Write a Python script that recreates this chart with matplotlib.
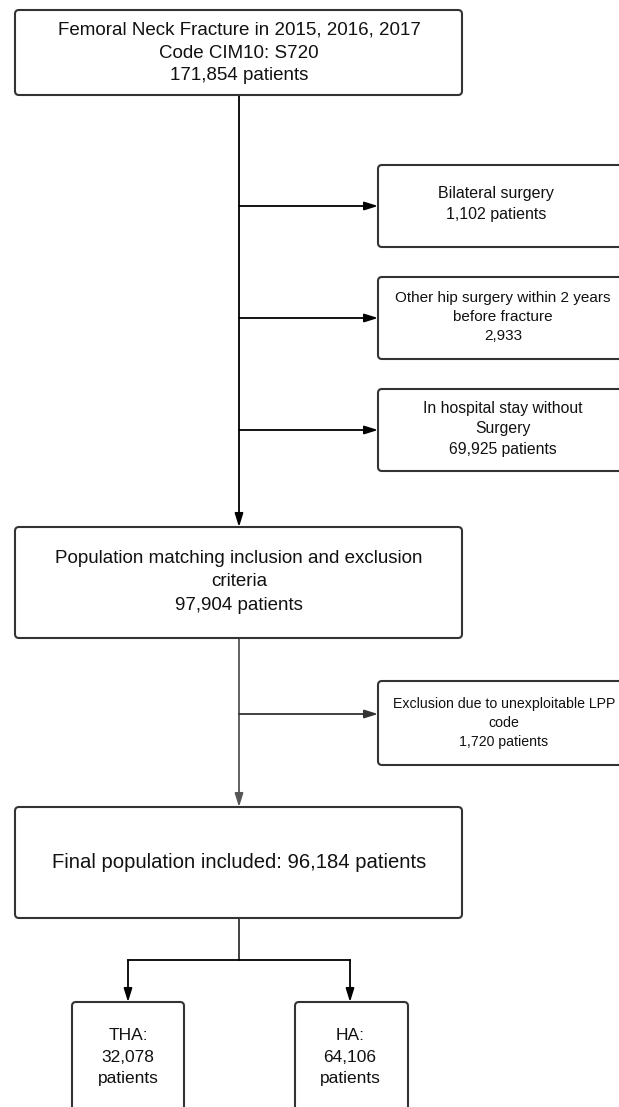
"""Patient selection flowchart (femoral neck fracture cohort)."""

import matplotlib
matplotlib.use("Agg")
import matplotlib.pyplot as plt
from matplotlib import font_manager
from matplotlib.patches import FancyBboxPatch

# Counts
total_patients = 171854
exclusion_labels = ["Bilateral surgery",
                    "Other hip surgery within 2 years\nbefore fracture",
                    "In hospital stay without\nSurgery"]
exclusion_counts = [1102, 2933, 69925]
exclusion_suffix = [" patients", "", " patients"]
matched_patients = 97904
lpp_excluded = 1720
final_patients = 96184
group_labels = ["THA:", "HA:"]
group_counts = [32078, 64106]

# The reference text is tall and narrow: use a narrow face if one is installed
family, scale = ["Liberation Sans", "DejaVu Sans"], 1.0
for cand in ["Liberation Sans Narrow", "Arial Narrow"]:
    try:
        font_manager.findfont(cand, fallback_to_default=False)
        family, scale = [cand, "Liberation Sans", "DejaVu Sans"], 1 / 0.82
        break
    except ValueError:
        pass
plt.rcParams["font.family"] = family

fig = plt.figure(figsize=(6.19, 11.07), dpi=100)
ax = fig.add_axes([0, 0, 1, 1])
ax.set_xlim(0, 619)
ax.set_ylim(1107, 0)
ax.axis("off")

EDGE = "#333333"


def box(x0, y0, x1, y1):
    p = FancyBboxPatch((x0, y0), x1 - x0, y1 - y0,
                       boxstyle="round,pad=0,rounding_size=4",
                       fc="white", ec=EDGE, lw=1.5, zorder=3)
    ax.add_patch(p)


def arrow(x0, y0, x1, y1, color="black"):
    ax.annotate("", xy=(x1, y1), xytext=(x0, y0),
                arrowprops=dict(arrowstyle="-|>,head_length=0.8,head_width=0.25",
                                color=color, lw=1.3, shrinkA=0, shrinkB=0),
                zorder=2)


def label(x, y, s, size, gap):
    # gap: distance between text lines in pixels
    fs = size * scale
    ls = gap / (0.82 * fs * 100 / 72)
    ax.text(x, y, s, ha="center", va="center", fontsize=fs,
            linespacing=ls, color="#111111", zorder=4)


def fmt(n):
    return f"{n:,}"


# Top box
box(15, 10, 462, 95)
label(239, 53, "Femoral Neck Fracture in 2015, 2016, 2017\nCode CIM10: S720\n"
      f"{fmt(total_patients)} patients", 13.5, 22)

# Main trunk with exclusion arrows
arrow(239, 95, 239, 527)
side_y = [(165, 247), (277, 359), (389, 471)]
side_fs = [11.5, 11.0, 11.3]
side_gap = [20, 18.5, 19]
side_x = [496, 503, 503]
side_dy = [-2, -1, -1]
for (y0, y1), lab, n, suf, fs, gap, tx, dy in zip(side_y, exclusion_labels,
                                                  exclusion_counts, exclusion_suffix,
                                                  side_fs, side_gap, side_x, side_dy):
    box(378, y0, 640, y1)
    arrow(239, (y0 + y1) / 2, 378, (y0 + y1) / 2)
    label(tx, (y0 + y1) / 2 + dy, f"{lab}\n{fmt(n)}{suf}", fs, gap)

# Population matching criteria
box(15, 527, 462, 638)
label(239, 582, "Population matching inclusion and exclusion\ncriteria\n"
      f"{fmt(matched_patients)} patients", 13.5, 22.5)

arrow(239, 638, 239, 807, color="#555555")
box(378, 681, 640, 765)
arrow(239, 714, 378, 714, color="#333333")
label(504, 723, "Exclusion due to unexploitable LPP\ncode\n"
      f"{fmt(lpp_excluded)} patients", 10.2, 17)

# Final population
box(15, 807, 462, 918)
label(239, 862, f"Final population included: {fmt(final_patients)} patients",
      14.6, 22)

# Split into groups
ax.plot([239, 239], [918, 960], color="#333333", lw=1.3, zorder=2)
ax.plot([128, 350], [960, 960], color="black", lw=1.3, zorder=2)
for cx, x0, x1, lab, n in zip([128, 350], [72, 295], [184, 408],
                              group_labels, group_counts):
    arrow(cx, 960, cx, 1002)
    box(x0, 1002, x1, 1130)
    label(cx, 1057, f"{lab}\n{fmt(n)}\npatients", 12.5, 21.5)

fig.savefig("out.png", dpi=100)
plt.close(fig)
